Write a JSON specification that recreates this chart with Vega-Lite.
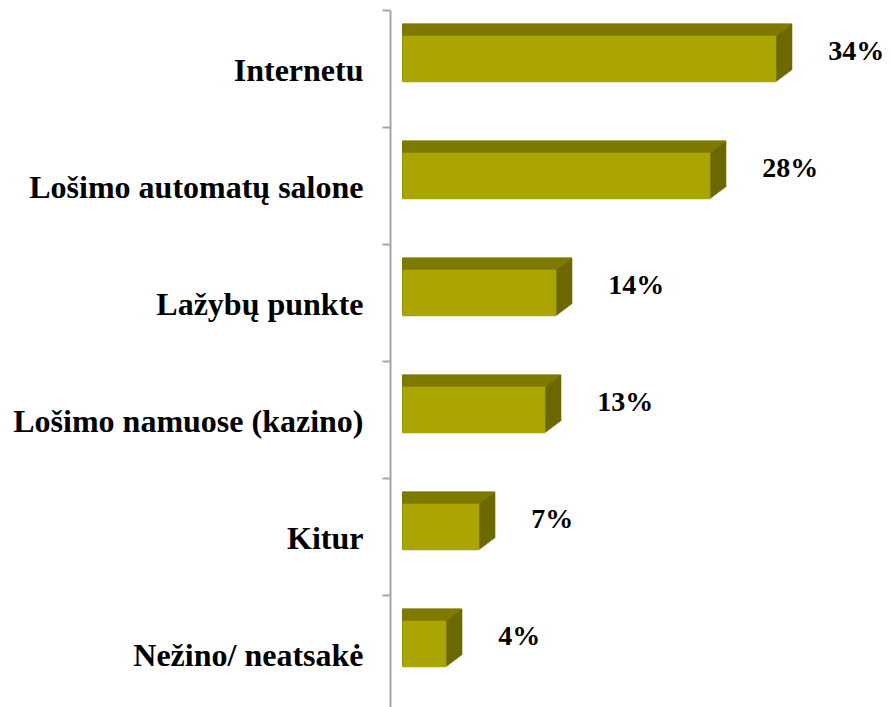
{
  "$schema": "https://vega.github.io/schema/vega-lite/v6.json",
  "width": 501,
  "height": 702,
  "autosize": "none",
  "padding": {"left": 390, "top": 10, "right": 0, "bottom": 0},
  "background": "white",
  "config": {"view": {"stroke": null}},
  "data": {
    "values": [
      {"cat": "Internetu", "value": 0.34},
      {"cat": "Lošimo automatų salone", "value": 0.28},
      {"cat": "Lažybų punkte", "value": 0.14},
      {"cat": "Lošimo namuose (kazino)", "value": 0.13},
      {"cat": "Kitur", "value": 0.07},
      {"cat": "Nežino/ neatsakė", "value": 0.04}
    ]
  },
  "encoding": {
    "y": {
      "field": "cat",
      "type": "nominal",
      "sort": null,
      "scale": {"paddingInner": 0, "paddingOuter": 0},
      "axis": {
        "title": null,
        "domainColor": "#a6a6a6",
        "domainWidth": 2,
        "tickColor": "#a6a6a6",
        "tickWidth": 2,
        "tickSize": 8,
        "tickBand": "extent",
        "labelFont": "Liberation Serif",
        "labelFontWeight": "bold",
        "labelFontSize": 32,
        "labelColor": "black",
        "labelPadding": 19,
        "labelBaseline": "alphabetic",
        "labelOffset": 11.5,
        "labelLimit": 0
      }
    },
    "x": {
      "field": "value",
      "type": "quantitative",
      "scale": {"domain": [-0.01118, 0.4443], "nice": false, "zero": false},
      "axis": null
    }
  },
  "layer": [
    {
      "encoding": {"x2": {"datum": 0}},
      "layer": [
        {"mark": {"type": "bar", "size": 46.5, "color": "#6c6900", "xOffset": 16, "yOffset": -21.5}},
        {"mark": {"type": "bar", "size": 46.5, "color": "#6c6900", "xOffset": 14.67, "yOffset": -20.5}},
        {"mark": {"type": "bar", "size": 46.5, "color": "#6c6900", "xOffset": 13.33, "yOffset": -19.5}},
        {"mark": {"type": "bar", "size": 46.5, "color": "#6c6900", "xOffset": 12, "yOffset": -18.5}},
        {"mark": {"type": "bar", "size": 46.5, "color": "#6c6900", "xOffset": 10.67, "yOffset": -17.5}},
        {"mark": {"type": "bar", "size": 46.5, "color": "#6c6900", "xOffset": 9.33, "yOffset": -16.5}},
        {"mark": {"type": "bar", "size": 46.5, "color": "#6c6900", "xOffset": 8, "yOffset": -15.5}},
        {"mark": {"type": "bar", "size": 46.5, "color": "#6c6900", "xOffset": 6.67, "yOffset": -14.5}},
        {"mark": {"type": "bar", "size": 46.5, "color": "#6c6900", "xOffset": 5.33, "yOffset": -13.5}},
        {"mark": {"type": "bar", "size": 46.5, "color": "#6c6900", "xOffset": 4, "yOffset": -12.5}},
        {"mark": {"type": "bar", "size": 46.5, "color": "#6c6900", "xOffset": 2.67, "yOffset": -11.5}},
        {"mark": {"type": "bar", "size": 46.5, "color": "#6c6900", "xOffset": 1.33, "yOffset": -10.5}},
        {"mark": {"type": "bar", "size": 1.6, "color": "#7f7b00", "xOffset": 15.33, "yOffset": -44.25}},
        {"mark": {"type": "bar", "size": 1.6, "color": "#7f7b00", "xOffset": 14, "yOffset": -43.25}},
        {"mark": {"type": "bar", "size": 1.6, "color": "#7f7b00", "xOffset": 12.67, "yOffset": -42.25}},
        {"mark": {"type": "bar", "size": 1.6, "color": "#7f7b00", "xOffset": 11.33, "yOffset": -41.25}},
        {"mark": {"type": "bar", "size": 1.6, "color": "#7f7b00", "xOffset": 10, "yOffset": -40.25}},
        {"mark": {"type": "bar", "size": 1.6, "color": "#7f7b00", "xOffset": 8.67, "yOffset": -39.25}},
        {"mark": {"type": "bar", "size": 1.6, "color": "#7f7b00", "xOffset": 7.33, "yOffset": -38.25}},
        {"mark": {"type": "bar", "size": 1.6, "color": "#7f7b00", "xOffset": 6, "yOffset": -37.25}},
        {"mark": {"type": "bar", "size": 1.6, "color": "#7f7b00", "xOffset": 4.67, "yOffset": -36.25}},
        {"mark": {"type": "bar", "size": 1.6, "color": "#7f7b00", "xOffset": 3.33, "yOffset": -35.25}},
        {"mark": {"type": "bar", "size": 1.6, "color": "#7f7b00", "xOffset": 2, "yOffset": -34.25}},
        {"mark": {"type": "bar", "size": 1.6, "color": "#7f7b00", "xOffset": 0.67, "yOffset": -33.25}},
        {"mark": {"type": "bar", "size": 46.5, "color": "#aaa500", "yOffset": -9.5}}
      ]
    },
    {
      "mark": {
        "type": "text",
        "font": "Liberation Serif",
        "fontWeight": "bold",
        "fontSize": 28,
        "color": "black",
        "align": "left",
        "baseline": "alphabetic",
        "dx": 52,
        "dy": -9
      },
      "encoding": {
        "text": {"field": "value", "type": "quantitative", "format": ".0%"}
      }
    }
  ]
}
